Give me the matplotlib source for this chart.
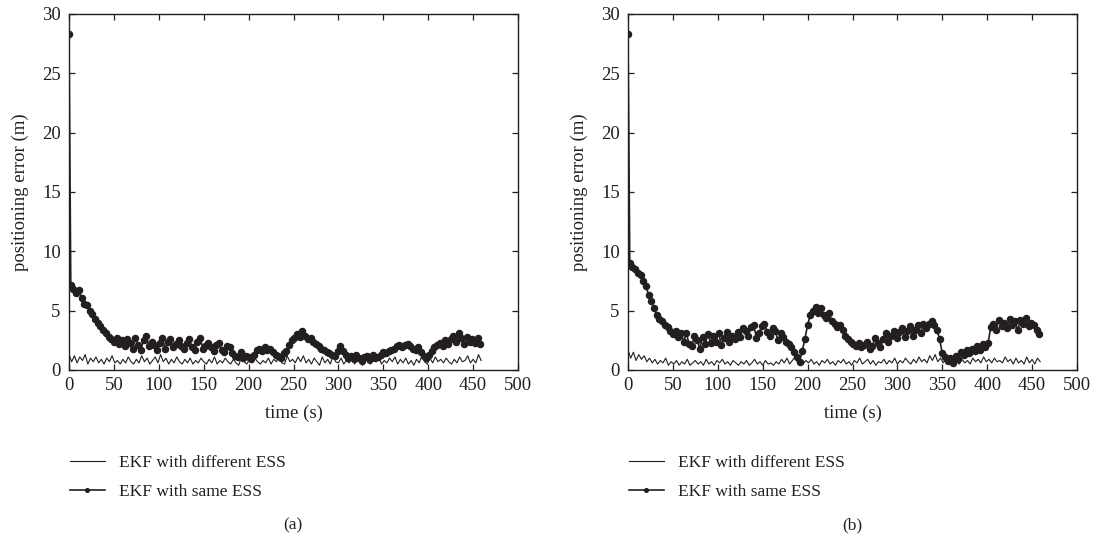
import numpy as np
import matplotlib
matplotlib.use("Agg")
import matplotlib.pyplot as plt

plt.rcParams['font.family'] = ['Liberation Serif', 'DejaVu Serif']

# time axes (s)
t_same = np.array([0] + list(range(2, 461, 3)))
t_diff = np.arange(0, 460, 3)

# panel (a)
same_a = [28.3,
    7.2, 6.8, 6.5, 6.7, 6.1, 5.6, 5.5, 5.0, 4.7, 4.3,
    4.0, 3.7, 3.4, 3.1, 2.8, 2.6, 2.4, 2.7, 2.2, 2.5,
    2.0, 2.6, 2.3, 1.8, 2.7, 2.1, 1.7, 2.5, 2.9, 2.0,
    2.4, 2.1, 1.7, 2.3, 2.7, 1.8, 2.4, 2.6, 1.9, 2.2,
    2.5, 2.0, 1.8, 2.3, 2.6, 1.9, 1.7, 2.4, 2.7, 1.8,
    2.0, 2.3, 1.9, 1.6, 2.1, 2.3, 1.7, 1.5, 2.0, 1.9,
    1.4, 1.2, 1.1, 1.5, 1.0, 1.2, 1.1, 0.9, 1.3, 1.7,
    1.8, 1.6, 1.9, 1.7, 1.8, 1.5, 1.3, 1.2, 1.0, 1.4,
    1.6, 2.1, 2.5, 2.7, 3.0, 2.8, 3.3, 2.9, 2.6, 2.7,
    2.4, 2.2, 2.0, 1.8, 1.7, 1.5, 1.4, 1.3, 1.2, 1.6,
    2.0, 1.6, 1.3, 1.0, 1.2, 0.9, 1.3, 1.0, 0.8, 1.1,
    1.2, 0.9, 1.3, 1.0, 1.1, 1.3, 1.5, 1.4, 1.6, 1.7,
    1.8, 2.0, 2.1, 1.9, 2.1, 2.2, 2.0, 1.8, 1.7, 1.9,
    1.5, 1.2, 1.0, 1.3, 1.6, 1.9, 2.1, 2.3, 2.0, 2.5,
    2.2, 2.6, 2.9, 2.4, 3.1, 2.7, 2.2, 2.8, 2.4, 2.6,
    2.3, 2.7, 2.2]

diff_a = [
    1.3, 0.7, 1.2, 0.6, 1.1, 0.8, 1.3, 0.5, 1.0, 0.7,
    1.1, 0.6, 0.9, 0.5, 1.0, 0.7, 1.2, 0.6, 0.8, 0.5,
    0.9, 0.6, 1.1, 0.7, 0.5, 0.9, 0.6, 1.2, 0.7, 1.0,
    0.5, 0.8, 1.1, 0.6, 1.3, 0.7, 1.0, 0.5, 0.9, 0.6,
    1.1, 0.7, 0.5, 0.9, 0.6, 1.0, 0.5, 0.8, 0.6, 1.0,
    0.7, 0.5, 0.9, 0.6, 1.1, 0.5, 0.8, 0.6, 1.0, 0.7,
    0.5, 0.9, 0.6, 0.4, 1.1, 0.7, 0.5, 0.9, 0.6, 1.0,
    0.7, 0.5, 0.8, 0.6, 1.0, 0.5, 0.9, 0.7, 1.1, 0.6,
    0.5, 1.2, 0.7, 0.9, 0.6, 1.1, 0.7, 1.2, 0.6, 0.9,
    0.5, 1.0, 0.7, 0.4, 1.1, 0.6, 0.9, 0.5, 1.2, 0.7,
    0.6, 1.0, 0.5, 0.8, 0.6, 1.1, 0.5, 0.9, 0.7, 0.4,
    1.0, 0.6, 0.5, 0.9, 0.7, 1.1, 0.5, 0.8, 0.6, 1.0,
    0.7, 1.1, 0.5, 0.9, 0.6, 1.0, 0.5, 0.8, 0.4, 0.9,
    0.6, 1.2, 0.7, 0.5, 1.0, 0.6, 1.1, 0.7, 0.9, 0.6,
    1.0, 0.7, 0.5, 0.9, 0.6, 1.1, 0.7, 0.8, 1.2, 0.6,
    0.9, 0.6, 1.3, 0.8]

# panel (b)
same_b = [28.3,
    9.0, 8.7, 8.5, 8.2, 8.0, 7.5, 7.1, 6.3, 5.8, 5.2,
    4.6, 4.3, 4.1, 3.8, 3.6, 3.3, 3.0, 3.3, 2.8, 3.1,
    2.4, 3.1, 2.2, 2.0, 2.9, 2.5, 1.8, 2.8, 2.2, 3.0,
    2.3, 2.9, 2.4, 3.1, 2.1, 2.7, 3.2, 2.4, 2.9, 2.6,
    3.2, 2.8, 3.5, 3.3, 2.9, 3.6, 3.8, 2.7, 3.1, 3.7,
    3.9, 3.2, 2.9, 3.5, 3.3, 2.5, 3.1, 2.8, 2.4, 2.2,
    1.9, 1.5, 1.1, 0.7, 1.6, 2.6, 3.8, 4.6, 5.0, 5.3,
    4.8, 5.2, 4.6, 4.4, 4.8, 4.1, 3.9, 3.6, 3.8, 3.4,
    2.9, 2.6, 2.4, 2.2, 2.0, 2.3, 1.9, 2.1, 2.4, 1.8,
    2.0, 2.7, 2.3, 1.9, 2.6, 3.1, 2.4, 2.9, 3.3, 2.7,
    3.2, 3.5, 2.8, 3.3, 3.7, 2.9, 3.4, 3.8, 3.1, 3.9,
    3.5, 3.9, 4.1, 3.8, 3.4, 2.6, 1.4, 1.1, 0.8, 1.0,
    0.6, 1.2, 0.9, 1.5, 1.3, 1.7, 1.4, 1.8, 1.6, 2.0,
    1.7, 2.2, 1.9, 2.3, 3.6, 3.9, 3.4, 4.2, 3.7, 4.0,
    3.5, 4.3, 3.8, 4.1, 3.4, 4.2, 3.9, 4.4, 3.7, 4.0,
    3.8, 3.4, 3.0]

diff_b = [
    1.7, 1.0, 1.5, 0.8, 1.3, 0.9, 1.2, 0.7, 1.0, 0.6,
    0.9, 0.5, 0.8, 0.6, 1.0, 0.4, 0.7, 0.5, 0.8, 0.4,
    0.7, 0.5, 0.9, 0.4, 0.6, 0.8, 0.5, 0.7, 0.4, 0.9,
    0.5, 0.7, 0.4, 0.8, 0.6, 0.9, 0.5, 0.7, 0.4, 0.8,
    0.6, 0.4, 0.7, 0.5, 0.8, 0.4, 0.6, 0.9, 0.5, 0.7,
    0.4, 0.8, 0.5, 0.6, 0.4, 0.7, 0.5, 0.9, 0.6, 1.0,
    0.5, 0.8, 1.1, 0.6, 0.9, 0.5, 0.8, 0.6, 0.9, 0.5,
    0.7, 0.4, 0.8, 0.6, 0.9, 0.5, 0.7, 0.4, 0.8, 0.6,
    0.9, 0.5, 0.7, 0.4, 0.8, 0.6, 1.0, 0.5, 0.7, 0.9,
    0.5, 0.8, 0.4, 0.7, 0.6, 0.9, 0.5, 0.8, 0.6, 1.0,
    0.5, 0.8, 0.6, 1.0, 0.7, 0.5, 0.9, 0.6, 1.1, 0.7,
    0.9, 0.6, 1.2, 0.8, 1.3, 0.7, 1.0, 0.6, 0.9, 0.5,
    0.8, 0.4, 0.7, 0.5, 0.9, 0.6, 0.8, 0.5, 1.0, 0.7,
    0.9, 0.6, 1.1, 0.7, 0.9, 0.6, 1.0, 0.7, 0.8, 0.6,
    1.1, 0.7, 0.9, 0.5, 1.0, 0.6, 0.8, 0.5, 1.1, 0.6,
    0.9, 0.5, 1.0, 0.7]

x_ticks = [0, 50, 100, 150, 200, 250, 300, 350, 400, 450, 500]
y_ticks = [0, 5, 10, 15, 20, 25, 30]
panel_labels = ['(a)', '(b)']
legend_labels = ['EKF with different ESS', 'EKF with same ESS']
xlabel = 'time (s)'
ylabel = 'positioning error (m)'

ink = '#231f20'
W, H = 1098, 546
fs = 13.5
fig = plt.figure(figsize=(W / 100, H / 100), dpi=100)

panels = [(69, same_a, diff_a), (628, same_b, diff_b)]
for i, (left_px, same, diff) in enumerate(panels):
    ax = fig.add_axes([left_px / W, 1 - 370 / H, 449 / W, 356 / H])
    l1, = ax.plot(t_diff, diff, color=ink, lw=0.8)
    l2, = ax.plot(t_same, same, color=ink, lw=1.2, marker='o', ms=4.4,
                  mfc=ink, mec=ink)
    ax.set_xlim(0, 500)
    ax.set_ylim(0, 30)
    ax.set_xticks(x_ticks)
    ax.set_yticks(y_ticks)
    ax.tick_params(direction='in', top=True, right=True, length=4,
                   width=0.9, labelsize=fs, colors=ink)
    ax.tick_params(axis='y', pad=6)
    ax.tick_params(axis='x', pad=5)
    for s in ax.spines.values():
        s.set_color(ink)
        s.set_linewidth(1.0)
    ax.set_xlabel(xlabel, fontsize=fs, color=ink, labelpad=8)
    ax.set_ylabel(ylabel, fontsize=fs, color=ink, labelpad=9)
    fig.legend([l1, l2], legend_labels, loc='upper left',
               bbox_to_anchor=((left_px + 1) / W, 1 - 455 / H),
               frameon=False, fontsize=12.5, handlelength=2.0,
               handletextpad=0.8, labelspacing=0.72, markerscale=0.6,
               labelcolor=ink, borderpad=0, borderaxespad=0)
    fig.text((left_px + 224) / W, 1 - 525 / H, panel_labels[i],
             ha='center', va='center', fontsize=12.5, color=ink)

fig.savefig('out.png', dpi=100)
